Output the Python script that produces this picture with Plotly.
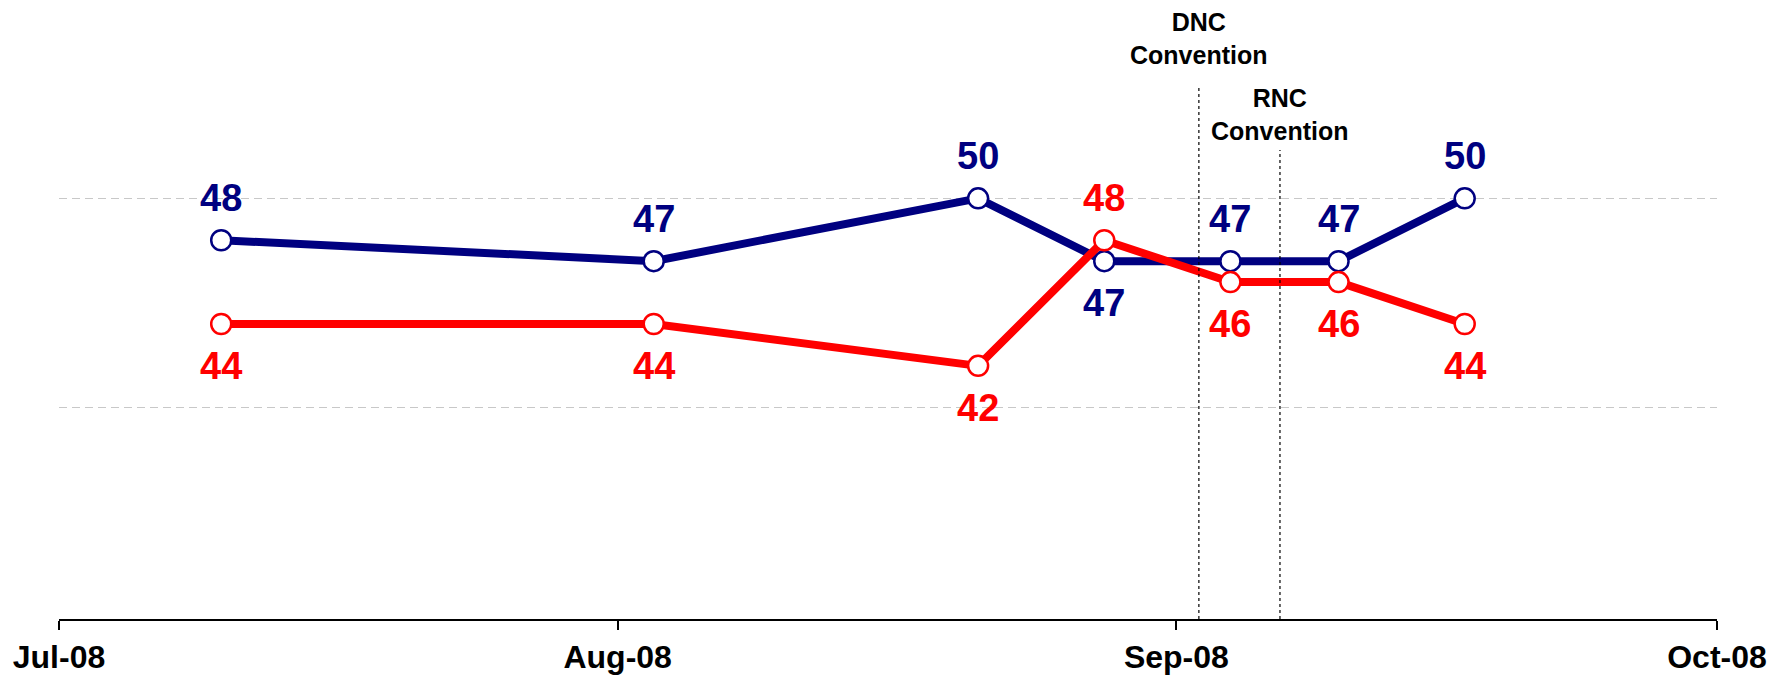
import plotly.graph_objects as go

dates = ["2008-07-10", "2008-08-03", "2008-08-21", "2008-08-28",
         "2008-09-04", "2008-09-10", "2008-09-17"]
obama = [48, 47, 50, 47, 47, 47, 50]
mccain = [44, 44, 42, 48, 46, 46, 44]
# label placement: +1 above the point, -1 below
obama_label_side = [1, 1, 1, -1, 1, 1, 1]
mccain_label_side = [-1, -1, -1, 1, -1, -1, -1]

tick_vals = ["2008-07-01", "2008-08-01", "2008-09-01", "2008-10-01"]
tick_text = ["Jul-08", "Aug-08", "Sep-08", "Oct-08"]

events = ["DNC<br>Convention", "RNC<br>Convention"]
event_dates = ["2008-09-02 06:00", "2008-09-06 18:00"]
event_line_top = [55.32, 52.31]
event_label_y = [57.62, 54.02]

BLUE = "#000080"
RED = "#FF0000"
FONT = "Liberation Sans, Arial, sans-serif"

fig = go.Figure()
for vals, color in [(obama, BLUE), (mccain, RED)]:
    fig.add_trace(go.Scatter(
        x=dates, y=vals, mode="lines+markers",
        line=dict(color=color, width=8),
        marker=dict(size=20, color="white", line=dict(color=color, width=2.5)),
        cliponaxis=False, showlegend=False, hoverinfo="skip"))

annotations = []
for vals, sides, color in [(obama, obama_label_side, BLUE), (mccain, mccain_label_side, RED)]:
    for d, v, s in zip(dates, vals, sides):
        annotations.append(dict(
            x=d, y=v, xref="x", yref="y", text=str(v), showarrow=False,
            yshift=42 * s, font=dict(family=FONT, size=38, color=color, weight="bold"),
            xanchor="center", yanchor="middle"))

shapes = []
for name, d, top, ly in zip(events, event_dates, event_line_top, event_label_y):
    shapes.append(dict(type="line", xref="x", yref="y", x0=d, x1=d, y0=29.91, y1=top,
                       line=dict(color="black", width=1.2, dash="dot")))
    annotations.append(dict(
        x=d, y=ly, xref="x", yref="y", text=name, showarrow=False,
        font=dict(family=FONT, size=25, color="black", weight="bold"),
        xanchor="center", yanchor="middle"))

fig.update_layout(
    width=1788, height=685,
    margin=dict(l=51, r=79, t=0, b=74),
    paper_bgcolor="white", plot_bgcolor="white",
    shapes=shapes, annotations=annotations,
    xaxis=dict(
        type="date", range=["2008-07-01", "2008-10-01"],
        tickvals=tick_vals, ticktext=tick_text,
        showline=True, linecolor="black", linewidth=2,
        ticks="outside", ticklen=9, tickwidth=1.5, tickcolor="black",
        showgrid=False, zeroline=False,
        tickfont=dict(family=FONT, size=32, color="black", weight="bold")),
    yaxis=dict(
        range=[29.91, 59.09], tickvals=[40, 50], showticklabels=False,
        showgrid=True, gridcolor="#C8C8C8", gridwidth=1, griddash="8px,5px",
        zeroline=False, showline=False, ticks=""),
)

fig.write_html("out.html")
